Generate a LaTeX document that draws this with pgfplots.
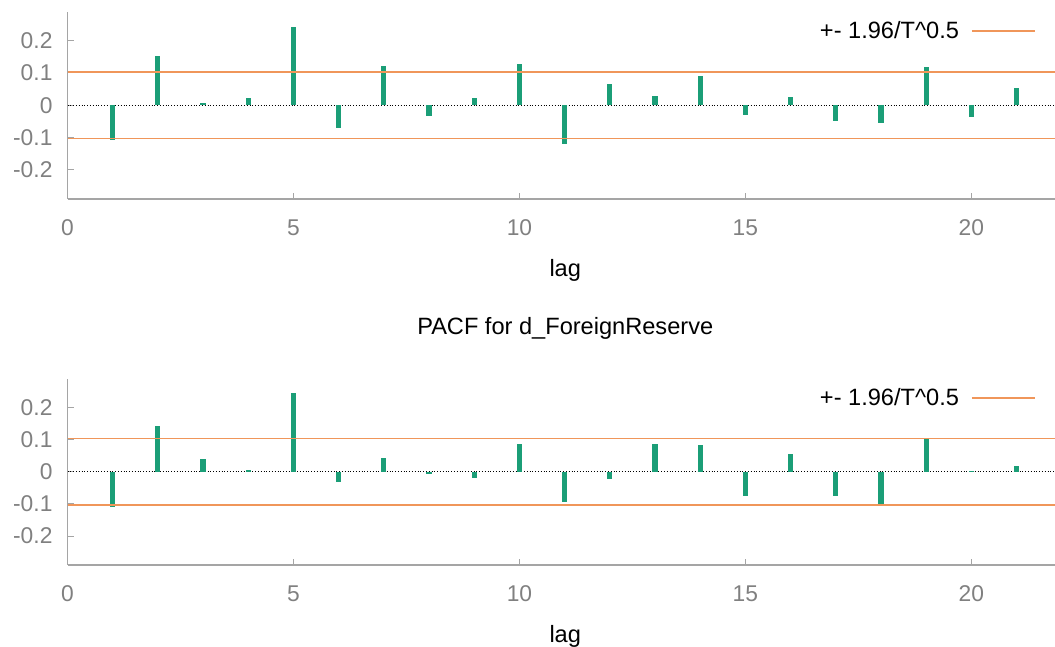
\documentclass[border=0pt]{standalone}
\usepackage{fontspec}
\setmainfont{Liberation Sans}
\usepackage{pgfplots}
\pgfplotsset{compat=1.18}
\usepackage{pgfplotstable}
\definecolor{bargreen}{RGB}{27,158,119}
\definecolor{bandorange}{RGB}{240,150,90}
\definecolor{tickgray}{RGB}{128,128,128}
\definecolor{axisgray}{RGB}{165,165,165}

\pgfplotstableread{
lag val
1 -0.108
2 0.153
3 0.007
4 0.023
5 0.241
6 -0.070
7 0.120
8 -0.032
9 0.022
10 0.126
11 -0.120
12 0.066
13 0.028
14 0.090
15 -0.031
16 0.025
17 -0.049
18 -0.056
19 0.118
20 -0.038
21 0.052
}\acfdata

\pgfplotstableread{
lag val
1 -0.110
2 0.143
3 0.039
4 0.005
5 0.244
6 -0.031
7 0.043
8 -0.007
9 -0.019
10 0.085
11 -0.095
12 -0.022
13 0.085
14 0.082
15 -0.075
16 0.054
17 -0.075
18 -0.099
19 0.103
20 0.001
21 0.019
}\pacfdata

\pgfplotsset{corrstyle/.style={
  width=493.75pt, height=93.5pt, scale only axis,
  xmin=0, xmax=21.85, ymin=-0.29, ymax=0.288,
  axis x line*=bottom, axis y line*=left,
  axis line style={axisgray, line width=0.6pt, -},
  xtick={0,5,10,15,20}, xticklabels={0,5,10,15,20},
  ytick={-0.2,-0.1,0,0.1,0.2}, yticklabels={-0.2,-0.1,0,0.1,0.2},
  tick align=inside, major tick length=3pt,
  tick style={axisgray, line width=0.5pt},
  tick label style={font=\fontsize{11.4}{13}\selectfont, text=tickgray},
  xticklabel style={yshift=-7pt},
  yticklabel style={xshift=-4pt},
  xlabel={lag},
  xlabel style={font=\fontsize{11.8}{14}\selectfont, at={(axis description cs:0.5,0)}, anchor=center, yshift=-35.5pt, xshift=2pt},
  legend style={at={(axis description cs:0.987,0.898)}, anchor=east, draw=none, fill=none,
    font=\fontsize{11.8}{14}\selectfont},
  legend cell align=right,
  legend plot pos=right,
  legend image code/.code={\path (0pt,0pt); \draw[#1] (4pt,0pt) -- (35.5pt,0pt);},
}}

\begin{document}
\begin{tikzpicture}
\useasboundingbox (0,0) rectangle (527.5pt,323.5pt);
\begin{axis}[corrstyle, at={(33.75pt,224pt)}, anchor=south west]
\addplot[black, densely dotted, line width=0.4pt, forget plot] coordinates {(0,0) (21.85,0)};
\addplot[ycomb, bargreen, line width=2.6pt, line cap=butt, mark=none, forget plot] table[x=lag, y=val] {\acfdata};
\addplot[bandorange, line width=0.9pt] coordinates {(0,0.1032) (21.85,0.1032)};
\addlegendentry{+- 1.96/T\textasciicircum 0.5}
\addplot[bandorange, line width=0.9pt, forget plot] coordinates {(0,-0.1032) (21.85,-0.1032)};
\end{axis}
\begin{axis}[corrstyle, height=93pt, at={(33.75pt,41pt)}, anchor=south west,
  title={PACF for d\_ForeignReserve},
  title style={font=\fontsize{11.8}{14}\selectfont, at={(axis description cs:0.5,1)}, anchor=center, yshift=19.5pt, xshift=2pt}]
\addplot[black, densely dotted, line width=0.4pt, forget plot] coordinates {(0,0) (21.85,0)};
\addplot[ycomb, bargreen, line width=2.6pt, line cap=butt, mark=none, forget plot] table[x=lag, y=val] {\pacfdata};
\addplot[bandorange, line width=0.9pt] coordinates {(0,0.1032) (21.85,0.1032)};
\addlegendentry{+- 1.96/T\textasciicircum 0.5}
\addplot[bandorange, line width=0.9pt, forget plot] coordinates {(0,-0.1032) (21.85,-0.1032)};
\end{axis}
\end{tikzpicture}
\end{document}
